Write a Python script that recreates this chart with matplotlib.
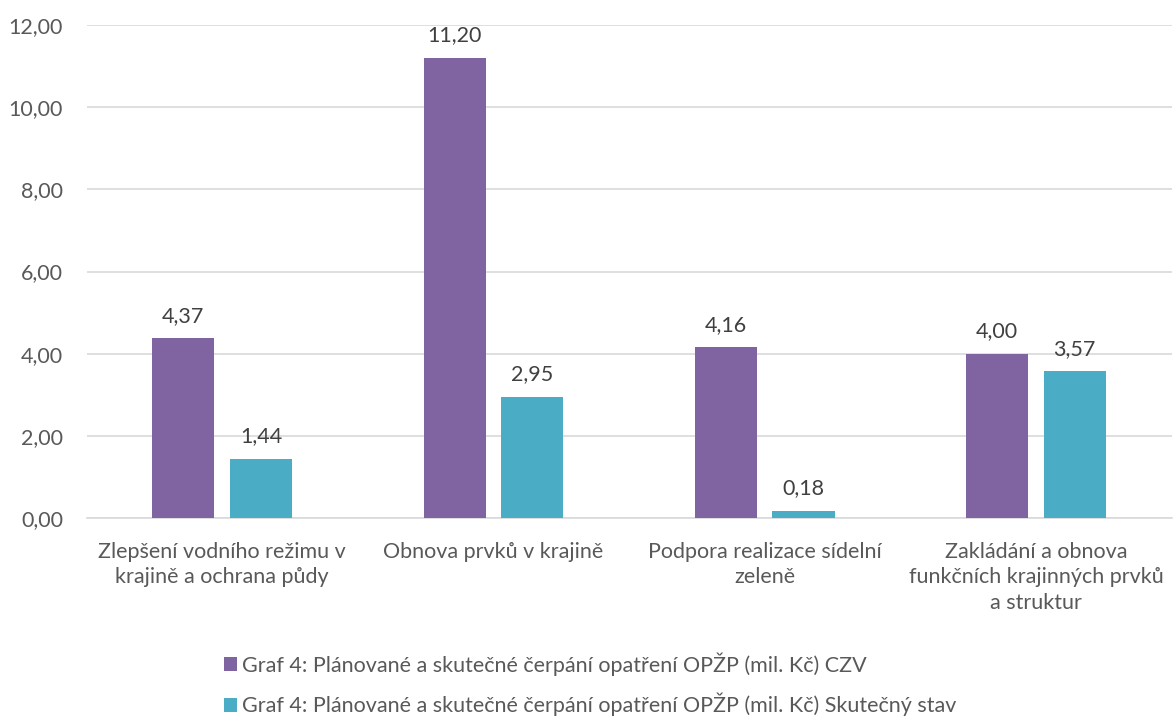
import matplotlib.pyplot as plt
import numpy as np

plt.rcParams['font.family'] = ['Lato', 'DejaVu Sans']

categories = ['Zlepšení vodního režimu v\nkrajině a ochrana půdy',
              'Obnova prvků v krajině',
              'Podpora realizace sídelní\nzeleně',
              'Zakládání a obnova\nfunkčních krajinných prvků\na struktur']
czv = [4.37, 11.20, 4.16, 4.00]
skutecny = [1.44, 2.95, 0.18, 3.57]
labels = ['Graf 4: Plánované a skutečné čerpání opatření OPŽP (mil. Kč) CZV',
          'Graf 4: Plánované a skutečné čerpání opatření OPŽP (mil. Kč) Skutečný stav']
yticks = [0, 2, 4, 6, 8, 10, 12]

purple = '#8064A2'
teal = '#4BACC6'
txt = '#595959'
fs = 15.5

fig = plt.figure(figsize=(11.76, 7.17), dpi=100)
ax = fig.add_axes([0.0736, 0.2775, 0.9226, 0.6876])

x = np.arange(len(categories))
w = 0.229
off = 0.143
b1 = ax.bar(x - off, czv, w, color=purple, label=labels[0], zorder=3)
b2 = ax.bar(x + off, skutecny, w, color=teal, label=labels[1], zorder=3)

for bars, vals in ((b1, czv), (b2, skutecny)):
    for b, v in zip(bars, vals):
        ax.annotate(f'{v:.2f}'.replace('.', ','), (b.get_x() + b.get_width() / 2, v),
                    xytext=(0, 9), textcoords='offset points', ha='center', va='bottom',
                    fontsize=fs, color='#404040')

ax.set_xlim(-0.5, 3.5)
ax.set_ylim(0, 12)
ax.set_yticks(yticks)
ax.set_yticklabels([f'{t:.2f}'.replace('.', ',') for t in yticks])
ax.set_xticks(x)
ax.set_xticklabels(categories, linespacing=1.35)
ax.tick_params(axis='both', length=0, labelsize=fs, labelcolor=txt)
ax.tick_params(axis='y', pad=17)
ax.tick_params(axis='x', pad=17)
ax.grid(axis='y', color='#D9D9D9', linewidth=1.2, zorder=0)
for s in ['top', 'right', 'left']:
    ax.spines[s].set_visible(False)
ax.spines['bottom'].set_color('#D9D9D9')
ax.spines['bottom'].set_linewidth(1.2)

fig.legend(loc='lower left', bbox_to_anchor=(0.174, -0.026), ncol=1, frameon=False,
           fontsize=fs, labelcolor=txt, handlelength=0.6, handleheight=0.6,
           handletextpad=0.25, labelspacing=0.8)

fig.savefig('out.png', dpi=100)
